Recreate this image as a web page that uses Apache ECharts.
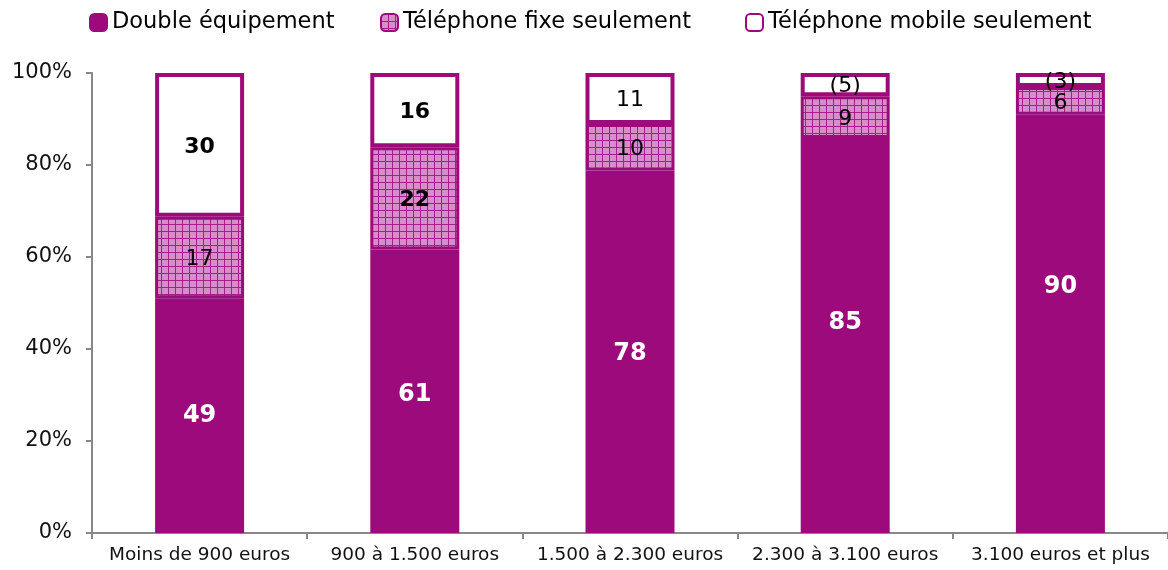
<!DOCTYPE html>
<html><head><meta charset="utf-8">
<script src="https://cdn.jsdelivr.net/npm/echarts@6/dist/echarts.min.js"></script>
<style>html,body{margin:0;padding:0;background:#fff}#c{width:1168px;height:570px}</style>
</head><body><div id="c"></div>
<script>
const categories = ['Moins de 900 euros','900 à 1.500 euros','1.500 à 2.300 euros','2.300 à 3.100 euros','3.100 euros et plus'];
const doubleEquip = [49, 61, 78, 85, 90];
const fixeSeul = [17, 22, 10, 9, 6];
const mobileSeul = [30, 16, 11, 5, 3];
const mobileLabels = ['30','16','11','(5)','(3)'];
const yTicks = ['0%','20%','40%','60%','80%','100%'];
const seriesNames = ['Double équipement','Téléphone fixe seulement','Téléphone mobile seulement'];

const PURPLE = '#9d0a7b';
const FONT = '"DejaVu Sans", Verdana, sans-serif';

// pattern for "fixe"
const pc = document.createElement('canvas');
pc.width = 7; pc.height = 7;
const g = pc.getContext('2d');
g.fillStyle = '#d78dca'; g.fillRect(0,0,7,7);
g.fillStyle = '#a3218a'; g.fillRect(0,0,7,1); g.fillRect(0,0,1,7);

const totals = categories.map((_, i) => doubleEquip[i] + fixeSeul[i] + mobileSeul[i]);
const pct = (arr) => arr.map((v, i) => v / totals[i] * 100);

// label styling (not data)
const boldMobile = [true, true, false, false, false];
const boldFixe = [false, true, false, false, false];
const doubleLabelShift = [0, 3, 2, -13, -37];

const legendText = { fontSize: 22.5, color: '#000', fontFamily: FONT };
const chart = echarts.init(document.getElementById('c'));
chart.setOption({
  animation: false,
  textStyle: { fontFamily: FONT },
  legend: [
    { data: [seriesNames[0]], left: 84, top: 6, itemWidth: 17, itemHeight: 17, itemGap: 5, icon: 'roundRect', textStyle: legendText },
    { data: [seriesNames[1]], left: 375, top: 6, itemWidth: 17, itemHeight: 17, itemGap: 5, icon: 'roundRect', textStyle: legendText },
    { data: [seriesNames[2]], left: 740, top: 6, itemWidth: 17, itemHeight: 17, itemGap: 5, icon: 'roundRect', textStyle: legendText }
  ],
  grid: { left: 92, width: 1079, top: 73, bottom: 37, containLabel: false },
  xAxis: {
    type: 'category', data: categories,
    axisLine: { lineStyle: { color: '#888', width: 2 } },
    axisTick: { show: true, interval: 0, length: 6, lineStyle: { color: '#888', width: 2 } },
    axisLabel: { interval: 0, hideOverlap: false, fontSize: 18.5, color: '#111', margin: 13, fontFamily: FONT }
  },
  yAxis: {
    type: 'value', min: 0, max: 100, interval: 20,
    axisLine: { show: true, lineStyle: { color: '#888', width: 2 } },
    axisTick: { show: true, length: 6, lineStyle: { color: '#888', width: 2 } },
    splitLine: { show: false },
    axisLabel: { fontSize: 21, color: '#111', margin: 20, fontFamily: FONT,
      formatter: (v) => yTicks[Math.round(v / 20)] }
  },
  series: [
    {
      name: seriesNames[0], type: 'bar', stack: 'a', barWidth: 89,
      itemStyle: { color: PURPLE, borderColor: PURPLE, borderWidth: 3 },
      label: { show: true, position: 'inside', color: '#fff', fontSize: 24, fontWeight: 'bold', fontFamily: FONT,
        formatter: (p) => String(doubleEquip[p.dataIndex]) },
      data: pct(doubleEquip).map((v, i) => ({ value: v, label: { offset: [0, doubleLabelShift[i]] } }))
    },
    {
      name: seriesNames[1], type: 'bar', stack: 'a', barWidth: 89,
      itemStyle: { color: { image: pc, repeat: 'repeat' }, borderColor: PURPLE, borderWidth: 3 },
      label: { show: true, position: 'inside', color: '#000', fontSize: 22, fontFamily: FONT, offset: [0, 2],
        formatter: (p) => String(fixeSeul[p.dataIndex]) },
      data: pct(fixeSeul).map((v, i) => ({ value: v, label: { fontWeight: boldFixe[i] ? 'bold' : 'normal' } }))
    },
    {
      name: seriesNames[2], type: 'bar', stack: 'a', barWidth: 89,
      itemStyle: { color: '#fff', borderColor: PURPLE, borderWidth: 4 },
      label: { show: true, position: 'inside', color: '#000', fontSize: 22, fontFamily: FONT, offset: [0, 2],
        formatter: (p) => mobileLabels[p.dataIndex] },
      data: pct(mobileSeul).map((v, i) => ({ value: v, label: { fontWeight: boldMobile[i] ? 'bold' : 'normal' } }))
    }
  ]
});
</script>
</body></html>
